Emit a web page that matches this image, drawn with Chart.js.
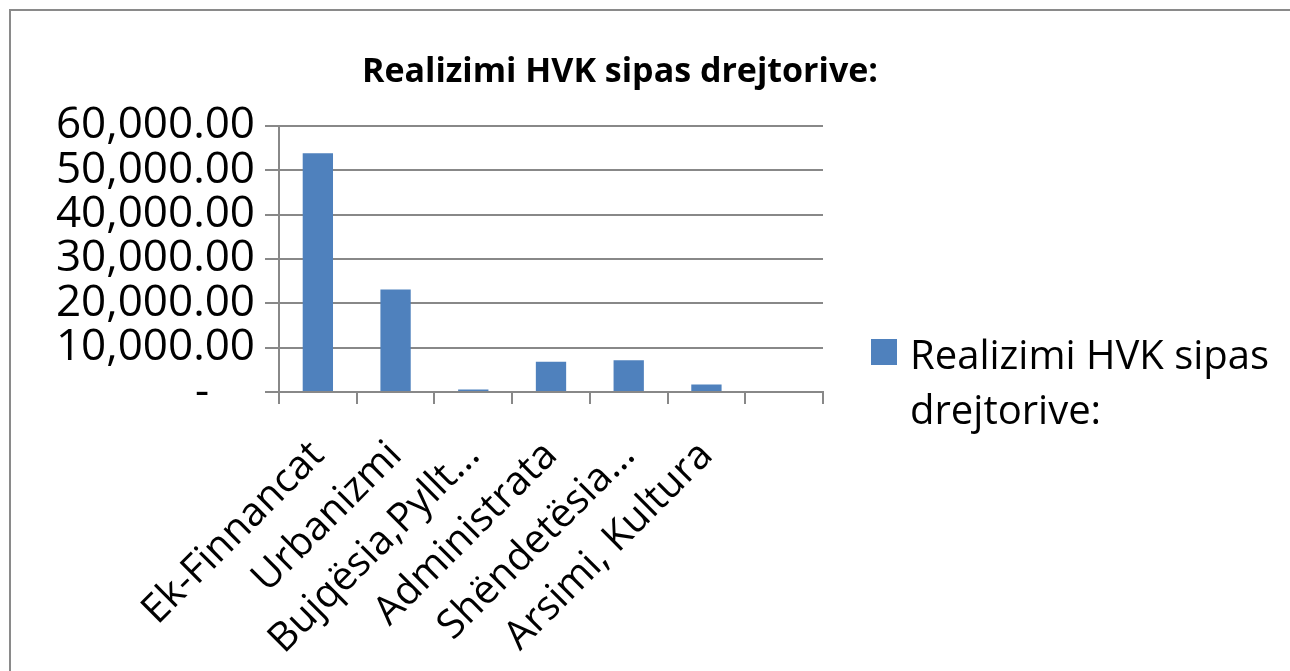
<!DOCTYPE html>
<html>
<head>
<meta charset="utf-8">
<script src="https://cdn.jsdelivr.net/npm/chart.js@4.4.1/dist/chart.umd.min.js"></script>
<style>
  html, body { margin: 0; padding: 0; background: #fff; }
  #wrap { position: relative; width: 1290px; height: 671px; overflow: hidden; }
  #frame { position: absolute; left: 9px; top: 9px; right: -10px; bottom: -10px;
           border-left: 2px solid #8a8a8a; border-top: 2px solid #8a8a8a; }
  #chartBox { position: absolute; left: 0; top: 0; width: 1290px; height: 671px; }
  #legend { position: absolute; left: 871px; top: 326px; font-family: "Open Sans", sans-serif;
            font-size: 40px; line-height: 55px; color: #000; }
  #legend .swatch { position: absolute; left: 0; top: 13px; width: 26px; height: 26px; background: #4f81bd; }
  #legend .txt { margin-left: 39px; white-space: nowrap; }
</style>
</head>
<body>
<div id="wrap">
  <div id="frame"></div>
  <div id="chartBox"><canvas id="grafico"></canvas></div>
  <div id="legend"><span class="swatch"></span><div class="txt">Realizimi HVK sipas<br>drejtorive:</div></div>
</div>
<script>
// Datos del gráfico
const titulo = 'Realizimi HVK sipas drejtorive:';
const categorias = ['Ek-Finnancat', 'Urbanizmi', 'Bujqësia,Pyllt...', 'Administrata', 'Shëndetësia...', 'Arsimi, Kultura', ''];
const valores = [53800, 23100, 540, 6800, 7150, 1680, null];
const ejeMin = 0;
const ejeMax = 60000;
const ejePaso = 10000;

const gris = '#888888';
const fuente = '"Open Sans", sans-serif';

function formatoValor(v) {
    if (v === 0) return '-    '; // estilo contable de Excel
    return v.toLocaleString('en-US', { minimumFractionDigits: 2, maximumFractionDigits: 2 });
}

const ctx = document.getElementById('grafico').getContext('2d');
new Chart(ctx, {
    type: 'bar',
    data: {
        labels: categorias,
        datasets: [{
            label: titulo,
            data: valores,
            backgroundColor: '#4f81bd',
            borderWidth: 0,
            barPercentage: 0.39,
            categoryPercentage: 1.0
        }]
    },
    options: {
        responsive: true,
        maintainAspectRatio: false,
        animation: false,
        layout: { padding: { left: 0, right: 50, top: 0, bottom: 0 } },
        plugins: {
            legend: { display: false },
            tooltip: { enabled: false },
            title: {
                display: true,
                text: titulo,
                color: '#000',
                font: { family: fuente, size: 34, weight: 'bold' },
                padding: { top: 52, bottom: 33 }
            }
        },
        scales: {
            x: {
                grid: { display: true, drawOnChartArea: false, drawTicks: true, tickLength: 12, color: gris, lineWidth: 2 },
                border: { display: true, color: gris, width: 2 },
                ticks: {
                    color: '#000',
                    font: { family: fuente, size: 40 },
                    minRotation: 45,
                    maxRotation: 45,
                    autoSkip: false,
                    padding: 28
                },
                afterFit(s) { s.height = 279; }
            },
            y: {
                min: ejeMin,
                max: ejeMax,
                grid: { color: gris, lineWidth: 2, tickLength: 14, drawTicks: true },
                border: { display: true, color: gris, width: 2 },
                ticks: {
                    stepSize: ejePaso,
                    autoSkip: false,
                    color: '#000',
                    font: { family: fuente, size: 44 },
                    padding: 10,
                    callback: (v) => formatoValor(v)
                },
                afterFit(s) { s.width = 279; }
            },
            derecha: {
                position: 'right',
                display: true,
                grid: { display: false },
                border: { display: false },
                ticks: { display: false },
                afterFit(s) { s.width = 417; }
            }
        }
    }
});
</script>
</body>
</html>
